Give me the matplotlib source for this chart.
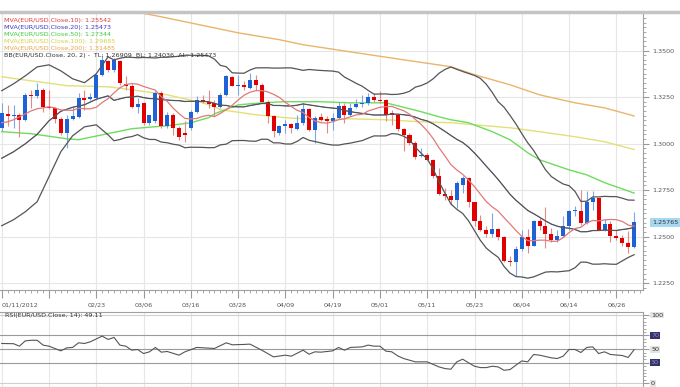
import numpy as np
import matplotlib.pyplot as plt
from matplotlib.ticker import MultipleLocator, FixedLocator
from matplotlib.transforms import blended_transform_factory
from matplotlib.lines import Line2D

# --- datos: velas diarias EUR/USD (índice de barra 0..107) ---
opens = [1.3083, 1.3160, 1.3146, 1.3155, 1.3128, 1.3262, 1.3253, 1.3289, 1.3199, 1.3190,
         1.3133, 1.3056, 1.3133, 1.3141, 1.3244, 1.3241, 1.3244, 1.3370, 1.3441, 1.3396,
         1.3441, 1.3319, 1.3307, 1.3199, 1.3217, 1.3110, 1.3119, 1.3271, 1.3092, 1.3155,
         1.3083, 1.3056, 1.3083, 1.3172, 1.3235, 1.3226, 1.3217, 1.3199, 1.3262, 1.3357,
         1.3307, 1.3316, 1.3298, 1.3339, 1.3316, 1.3226, 1.3146, 1.3056, 1.3096, 1.3106,
         1.3078, 1.3110, 1.3185, 1.3071, 1.3141, 1.3132, 1.3124, 1.3137, 1.3203, 1.3155,
         1.3196, 1.3212, 1.3217, 1.3248, 1.3235, 1.3235, 1.3164, 1.3155, 1.3078, 1.3047,
         1.3003, 1.2931, 1.2940, 1.2913, 1.2824, 1.2730, 1.2716, 1.2698, 1.2779, 1.2815,
         1.2684, 1.2582, 1.2534, 1.2516, 1.2541, 1.2501, 1.2371, 1.2362, 1.2433, 1.2498,
         1.2451, 1.2582, 1.2559, 1.2516, 1.2480, 1.2505, 1.2555, 1.2636, 1.2636, 1.2576,
         1.2689, 1.2707, 1.2537, 1.2568, 1.2505, 1.2492, 1.2466, 1.2444]
highs = [1.3217, 1.3208, 1.3208, 1.3163, 1.3271, 1.3289, 1.3325, 1.3298, 1.3289, 1.3199,
         1.3141, 1.3155, 1.3199, 1.3271, 1.3289, 1.3271, 1.3378, 1.3477, 1.3450, 1.3459,
         1.3450, 1.3361, 1.3319, 1.3244, 1.3223, 1.3155, 1.3280, 1.3280, 1.3172, 1.3163,
         1.3092, 1.3119, 1.3181, 1.3253, 1.3262, 1.3289, 1.3235, 1.3271, 1.3370, 1.3361,
         1.3370, 1.3334, 1.3378, 1.3370, 1.3325, 1.3235, 1.3155, 1.3101, 1.3128, 1.3110,
         1.3155, 1.3217, 1.3191, 1.3146, 1.3164, 1.3146, 1.3164, 1.3226, 1.3217, 1.3217,
         1.3239, 1.3262, 1.3271, 1.3271, 1.3285, 1.3239, 1.3182, 1.3164, 1.3083, 1.3056,
         1.3012, 1.2976, 1.2949, 1.2917, 1.2868, 1.2761, 1.2752, 1.2797, 1.2824, 1.2820,
         1.2689, 1.2618, 1.2555, 1.2627, 1.2546, 1.2505, 1.2394, 1.2448, 1.2537, 1.2541,
         1.2591, 1.2600, 1.2662, 1.2546, 1.2537, 1.2612, 1.2644, 1.2666, 1.2752, 1.2743,
         1.2747, 1.2710, 1.2594, 1.2582, 1.2537, 1.2510, 1.2528, 1.2630]
lows = [1.3065, 1.3092, 1.3083, 1.3038, 1.3119, 1.3190, 1.3244, 1.3172, 1.3185, 1.3110,
        1.3047, 1.2976, 1.3128, 1.3137, 1.3181, 1.3235, 1.3235, 1.3361, 1.3387, 1.3387,
        1.3316, 1.3289, 1.3190, 1.3163, 1.3101, 1.3101, 1.3110, 1.3083, 1.3083, 1.3047,
        1.3020, 1.3011, 1.3074, 1.3163, 1.3217, 1.3190, 1.3146, 1.3191, 1.3257, 1.3307,
        1.3262, 1.3289, 1.3293, 1.3289, 1.3217, 1.3110, 1.3038, 1.3047, 1.3056, 1.3056,
        1.3074, 1.3101, 1.3065, 1.3003, 1.3119, 1.3056, 1.3074, 1.3132, 1.3110, 1.3146,
        1.3191, 1.3199, 1.3208, 1.3226, 1.3217, 1.3119, 1.3101, 1.3065, 1.2958, 1.2994,
        1.2917, 1.2927, 1.2910, 1.2815, 1.2725, 1.2698, 1.2671, 1.2653, 1.2734, 1.2662,
        1.2555, 1.2528, 1.2501, 1.2501, 1.2483, 1.2362, 1.2340, 1.2287, 1.2421, 1.2412,
        1.2448, 1.2537, 1.2439, 1.2474, 1.2469, 1.2501, 1.2537, 1.2609, 1.2564, 1.2569,
        1.2641, 1.2534, 1.2528, 1.2474, 1.2483, 1.2448, 1.2412, 1.2439]
closes = [1.3163, 1.3149, 1.3155, 1.3128, 1.3262, 1.3253, 1.3289, 1.3194, 1.3190, 1.3133,
          1.3056, 1.3133, 1.3146, 1.3244, 1.3235, 1.3248, 1.3370, 1.3450, 1.3396, 1.3450,
          1.3325, 1.3307, 1.3199, 1.3212, 1.3110, 1.3151, 1.3271, 1.3092, 1.3155, 1.3083,
          1.3033, 1.3047, 1.3172, 1.3235, 1.3223, 1.3212, 1.3199, 1.3262, 1.3361, 1.3311,
          1.3316, 1.3303, 1.3339, 1.3316, 1.3226, 1.3146, 1.3065, 1.3092, 1.3106, 1.3083,
          1.3110, 1.3185, 1.3071, 1.3137, 1.3128, 1.3123, 1.3137, 1.3203, 1.3155, 1.3191,
          1.3212, 1.3217, 1.3248, 1.3235, 1.3230, 1.3155, 1.3155, 1.3078, 1.3047, 1.3003,
          1.2928, 1.2940, 1.2913, 1.2824, 1.2730, 1.2716, 1.2695, 1.2788, 1.2815, 1.2684,
          1.2582, 1.2534, 1.2516, 1.2541, 1.2501, 1.2367, 1.2362, 1.2433, 1.2501, 1.2451,
          1.2582, 1.2559, 1.2516, 1.2480, 1.2505, 1.2559, 1.2636, 1.2644, 1.2576, 1.2689,
          1.2707, 1.2537, 1.2568, 1.2505, 1.2492, 1.2466, 1.2444, 1.25765]

# valores iniciales de MA10 y Bollinger (su historia queda fuera)
ma10_head = [1.3112, 1.3117, 1.3128, 1.3144, 1.3160, 1.3176, 1.3187, 1.3192, 1.3198]
bb_head_idx = [0, 2, 4, 6, 8, 10, 12, 14, 16, 18]
bb_up_head = [1.3284, 1.3321, 1.3364, 1.3412, 1.3423, 1.3391, 1.3348, 1.3327, 1.3375, 1.3466]
bb_lo_head = [1.2559, 1.2591, 1.2634, 1.2688, 1.2822, 1.2956, 1.3042, 1.3090, 1.3101, 1.3047]

# medias largas
ma50_idx = [0, 5, 11, 13, 17, 22, 28, 32, 35, 36, 40, 44, 48, 54, 59, 65, 71, 74, 76, 79,
            83, 86, 89, 91, 96, 99, 102, 107]
ma50_val = [1.3064, 1.3053, 1.3026, 1.3021, 1.3047, 1.3080, 1.3096, 1.3112, 1.3139, 1.3160,
            1.3208, 1.3219, 1.3225, 1.3225, 1.3219, 1.3219, 1.3171, 1.3144, 1.3128, 1.3112,
            1.3064, 1.3021, 1.2951, 1.2913, 1.2859, 1.2832, 1.2790, 1.27344]
ma100_idx = [0, 5, 11, 18, 22, 28, 34, 36, 37, 43, 48, 54, 59, 65, 71, 76, 80, 86, 91, 97, 102, 107]
ma100_val = [1.3359, 1.3337, 1.3311, 1.3305, 1.3289, 1.3262, 1.3219, 1.3198, 1.3182, 1.3155,
             1.3139, 1.3128, 1.3133, 1.3128, 1.3117, 1.3112, 1.3101, 1.3085, 1.3064, 1.3037,
             1.3010, 1.29685]
ma200_idx = [20, 27, 40, 47, 51, 60, 68, 76, 80, 86, 91, 97, 102, 107]
ma200_val = [1.3724, 1.3681, 1.3595, 1.3558, 1.3531, 1.3488, 1.3450, 1.3413, 1.3370, 1.3316,
             1.3262, 1.3219, 1.3192, 1.31485]

rsi_idx = [0, 2, 3, 4, 5, 6, 7, 8, 10, 11, 12, 13, 14, 15, 17, 18, 19, 20, 21, 22, 23, 24, 25,
           26, 27, 28, 30, 31, 33, 35, 36, 38, 39, 41, 42, 44, 45, 46, 48, 49, 51, 52, 53, 54,
           56, 57, 58, 59, 61, 62, 63, 64, 65, 66, 67, 68, 70, 72, 74, 75, 76, 77, 78, 79, 80,
           81, 82, 83, 84, 85, 86, 88, 89, 90, 91, 93, 94, 95, 96, 97, 98, 99, 100, 101, 102,
           103, 105, 106, 107]
rsi_val = [58.3, 58, 54.4, 62.2, 63, 63, 55.9, 54.4, 47.5, 51.9, 52.5, 59.3, 58.3, 60.8, 69.1,
           64.2, 67.2, 55.9, 54.4, 48.5, 49.5, 43.6, 46.1, 52.5, 45.6, 46.6, 41.2, 46.1, 52.5,
           51.5, 51, 59.3, 56.4, 56.9, 57.4, 48.5, 43.6, 38.7, 41.2, 39.7, 48.5, 42.6, 46.1,
           45.6, 47.5, 52.5, 48.5, 52.5, 53.4, 55.9, 54.4, 54.4, 47.1, 46.1, 40.2, 36.3, 31.4,
           31.4, 24, 21.6, 20.6, 31.4, 35.3, 30, 25, 23, 23, 25, 24, 19.1, 20.1, 32.8, 31.4,
           42.2, 41.2, 37.3, 36.3, 39.7, 49.5, 49.5, 45.1, 52.5, 53.4, 43.6, 46.1, 42.2, 40.7,
           37.8, 49.11]

tick_idx = list(range(0, 105, 8))
tick_txt = ['01/11/2012', '', '02/23', '03/06', '03/16', '03/28', '04/09', '04/19',
            '05/01', '05/11', '05/23', '06/04', '06/14', '06/26']

leyenda = [('MVA(EUR/USD.Close,10): 1.25542', '#e03c3c'),
           ('MVA(EUR/USD.Close,20): 1.25473', '#3838c8'),
           ('MVA(EUR/USD.Close,50): 1.27344', '#3ccc3c'),
           ('MVA(EUR/USD.Close,100): 1.29685', '#d6d040'),
           ('MVA(EUR/USD.Close,200): 1.31485', '#e8a448'),
           ('BB(EUR/USD.Close, 20, 2) -  TL: 1.26909  BL: 1.24036  AL: 1.25473', '#333333')]

rsi_niveles = [100, 70, 50, 30, 0]

# --- cálculos derivados de los cierres ---
c = np.array(closes)
n = len(c)
x = np.arange(n)
ma10 = np.array(ma10_head + [c[i - 9:i + 1].mean() for i in range(9, n)])
mid = np.array([c[i - 19:i + 1].mean() for i in range(19, n)])
sd = np.array([c[i - 19:i + 1].std() for i in range(19, n)])
bb_x = np.array(bb_head_idx + list(range(19, n)))
bb_up = np.concatenate([bb_up_head, mid + 2 * sd])
bb_lo = np.concatenate([bb_lo_head, mid - 2 * sd])
bb_mid = (bb_up + bb_lo) / 2

# --- figura ---
W, H = 680, 387
fig = plt.figure(figsize=(W / 100, H / 100), dpi=100)
ax = fig.add_axes([0, 1 - 290 / H, 643 / W, 278 / H])
axr = fig.add_axes([0, 1 - 387 / H, 643 / W, 75 / H], sharex=ax)

grid_c = '#e6e6e6'
for a in (ax, axr):
    a.set_facecolor('white')
    a.set_axisbelow(True)
    a.grid(True, color=grid_c, lw=0.8)
    a.spines['left'].set_visible(False)
    for s in ('top', 'bottom', 'right'):
        a.spines[s].set_color('#a0a0a0')
        a.spines[s].set_linewidth(0.8)
    a.yaxis.tick_right()

# borde superior gris a todo el ancho
ax.spines['top'].set_visible(False)
fig.add_artist(Line2D([0, 1], [1 - 11.5 / H, 1 - 11.5 / H], transform=fig.transFigure,
                      color='#c4c4c4', lw=2.5))

# velas
sube = c >= np.array(opens)
col_body = np.where(sube, '#1e62d6', '#e00000')
col_wick = np.where(sube, '#7ea6e2', '#e48888')
ax.vlines(x, lows, highs, colors=col_wick, lw=0.8, zorder=3)
cuerpo = np.abs(c - np.array(opens))
cuerpo = np.maximum(cuerpo, 0.0004)
ax.bar(x, cuerpo, bottom=np.minimum(c, opens), width=0.68, color=col_body, lw=0, zorder=4)

# indicadores
ax.plot(ma200_idx, ma200_val, color='#ebb46c', lw=1.0, zorder=2)
ax.plot(ma100_idx, ma100_val, color='#e2e078', lw=1.0, zorder=2)
ax.plot(ma50_idx, ma50_val, color='#6edc5e', lw=1.0, zorder=2)
ax.plot(bb_x, bb_mid, color='#3838c8', lw=0.4, zorder=2)
ax.plot(bb_x, bb_up, color='#555555', lw=0.9, zorder=5)
ax.plot(bb_x, bb_lo, color='#555555', lw=0.9, zorder=5)
ax.plot(bb_x, bb_mid, color='#555555', lw=0.9, zorder=5)
ax.plot(x, ma10, color='#e07a7a', lw=0.9, zorder=5)

ax.set_xlim(-0.288, 108.51)
ax.set_ylim(1.22137, 1.37068)
ax.set_yticks(np.arange(1.225, 1.3501, 0.025))
ax.set_yticklabels(['%.4f' % v for v in np.arange(1.225, 1.3501, 0.025)])
ax.yaxis.set_minor_locator(MultipleLocator(0.0025))
ax.tick_params(axis='y', which='major', labelsize=4.6, labelcolor='#555555', color='#999999',
               length=4, pad=3)
ax.tick_params(axis='y', which='minor', color='#999999', length=2)

ax.xaxis.set_major_locator(FixedLocator(tick_idx))
ax.set_xticklabels(tick_txt)
ax.xaxis.set_minor_locator(MultipleLocator(1))
ax.tick_params(axis='x', which='major', labelsize=4.6, labelcolor='#555555', color='#999999',
               length=6, pad=3)
ax.tick_params(axis='x', which='minor', color='#999999', length=2.5)
ax.get_xticklabels()[0].set_horizontalalignment('left')

# precio actual
tr = blended_transform_factory(ax.transAxes, ax.transData)
ax.text(1 + 9 / 643, closes[-1], '%.5f' % closes[-1], transform=tr, fontsize=4.6,
        color='#333333', va='center', ha='left',
        bbox=dict(boxstyle='square,pad=0.25', fc='#a6d8f2', ec='none'))

# leyenda superior
for k, (txt, col) in enumerate(leyenda):
    fig.text(4 / W, 1 - (20.7 + 7 * k) / H, txt, fontsize=4.6, color=col, va='center', ha='left')

# panel RSI
axr.plot(rsi_idx, rsi_val, color='#555555', lw=0.8, zorder=3)
for nivel, col in [(70, '#9a9a9a'), (50, '#9a9a9a'), (30, '#9a9a9a'), (100, '#d0d0d0'), (0, '#d0d0d0')]:
    axr.axhline(nivel, color=col, lw=0.8, zorder=2)
axr.set_ylim(-5.4, 104.4)
axr.yaxis.set_major_locator(FixedLocator(rsi_niveles))
axr.yaxis.set_minor_locator(MultipleLocator(5))
axr.tick_params(axis='y', which='major', labelright=False, color='#999999', length=4)
axr.tick_params(axis='y', which='minor', color='#999999', length=2)
axr.tick_params(axis='x', which='both', length=0, labelbottom=False)
axr.grid(False, axis='y')
tr_r = blended_transform_factory(axr.transAxes, axr.transData)
for nivel in rsi_niveles:
    oscuro = nivel in (30, 70)
    axr.text(1 + 8 / 643, nivel, str(nivel), transform=tr_r, fontsize=4.6, va='center', ha='left',
             color='#8a8ad0' if oscuro else '#333333',
             bbox=dict(boxstyle='square,pad=0.15', fc='#34346a' if oscuro else '#e4e4e4', ec='none'))
axr.text(5 / 643, 100, 'RSI(EUR/USD.Close, 14): 49.11', fontsize=4.6, color='#333333',
         va='center', ha='left', transform=tr_r)

fig.savefig('out.png', dpi=100)
